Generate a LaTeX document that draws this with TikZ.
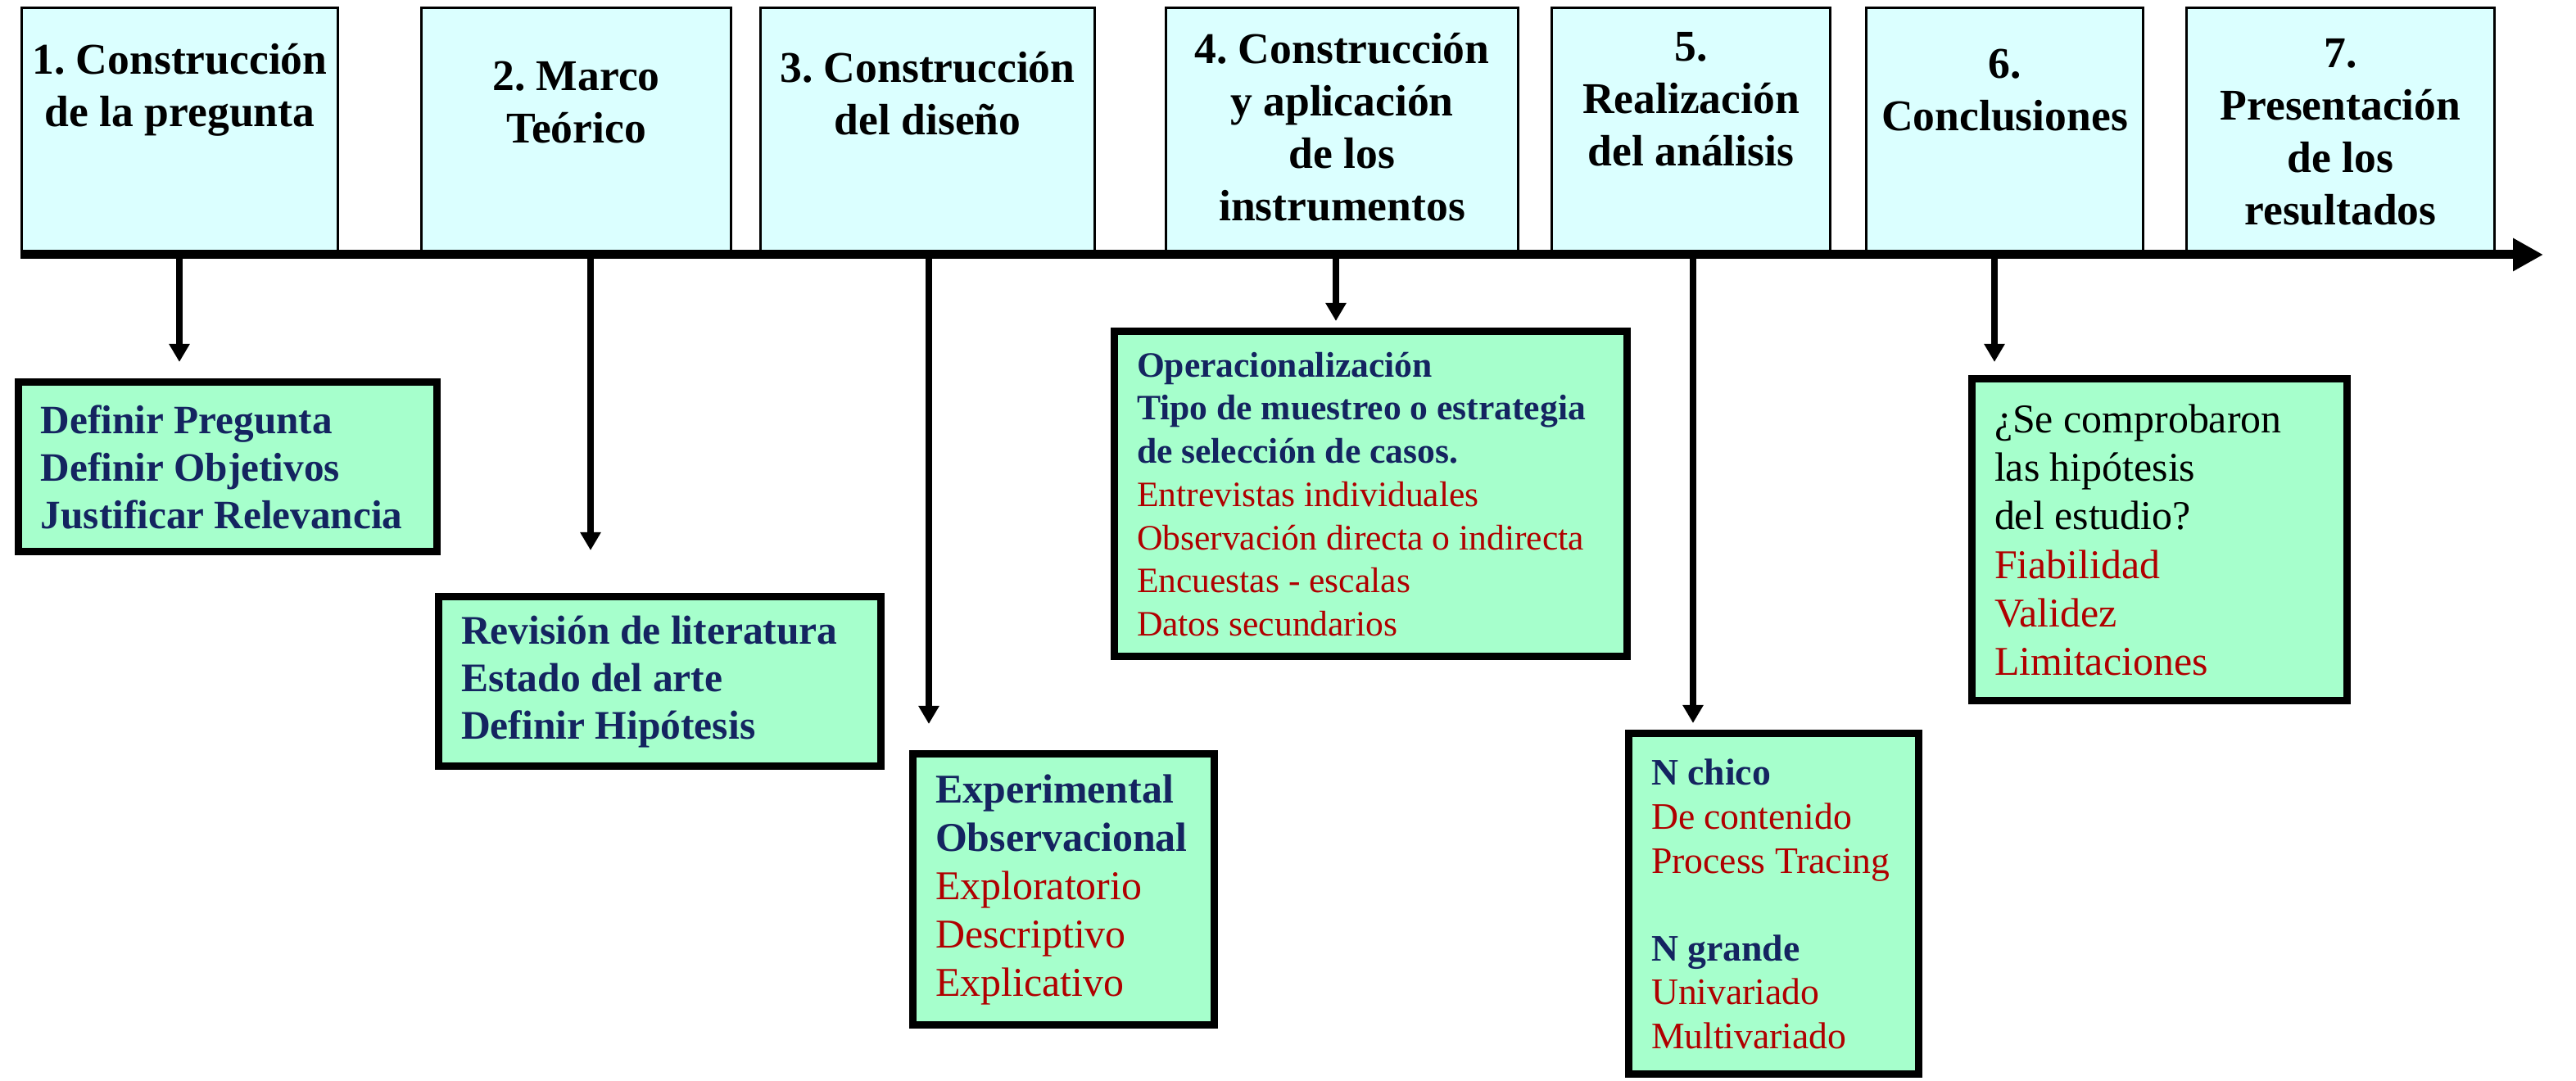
\documentclass[tikz,border=0pt]{standalone}
\usepackage{fontspec}
\setmainfont{Liberation Serif}
\usetikzlibrary{arrows.meta}
\definecolor{celeste}{RGB}{219,255,255}
\definecolor{menta}{RGB}{166,255,204}
\definecolor{azul}{RGB}{20,36,96}
\definecolor{rojo}{RGB}{176,0,0}
\hyphenpenalty=10000
\frenchspacing
\newcommand{\cabecera}[3]{\parbox[t][2.98cm][t]{#1}{\centering\vspace*{#2}\strut#3}}
\newcommand{\destacado}[1]{\textcolor{azul}{\bfseries #1}}
\newcommand{\opcion}[1]{\textcolor{rojo}{#1}}
\tikzset{
  paso/.style={
    draw=black,
    line width=0.85pt,
    fill=celeste,
    inner sep=0pt,
    anchor=north west,
    font=\fontsize{15.25}{18.2}\selectfont\bfseries
  },
  etapa/.style={
    draw=black,
    line width=0.09cm,
    fill=menta,
    inner xsep=0.28cm,
    inner ysep=0pt,
    anchor=north west,
    align=flush left
  },
  eje/.style={
    -{Triangle[length=0.37cm, width=0.38cm]},
    line width=0.11cm
  },
  flecha/.style={
    -{Triangle[length=0.22cm, width=0.24cm]},
    line width=0.08cm
  }
}
\begin{document}
\begin{tikzpicture}
    \useasboundingbox (0,0) rectangle (31.45,-13.2);

    % etapas del proceso (fila superior)
    \node[paso] (p1) at (0.25,-0.08) {\cabecera{3.86cm}{0.36cm}{1. Construcción\\ de la pregunta}};
    \node[paso] (p2) at (5.13,-0.08) {\cabecera{3.78cm}{0.56cm}{2. Marco\\ Teórico}};
    \node[paso] (p3) at (9.27,-0.08) {\cabecera{4.08cm}{0.46cm}{3. Construcción\\ del diseño}};
    \node[paso] (p4) at (14.22,-0.08) {\cabecera{4.30cm}{0.23cm}{4. Construcción\\ y aplicación\\ de los\\ instrumentos}};
    \node[paso] (p5) at (18.93,-0.08) {\cabecera{3.40cm}{0.20cm}{5.\\ Realización\\ del análisis}};
    \node[paso] (p6) at (22.77,-0.08) {\cabecera{3.38cm}{0.41cm}{6.\\ Conclusiones}};
    \node[paso] (p7) at (26.68,-0.08) {\cabecera{3.76cm}{0.28cm}{7.\\ Presentación\\ de los\\ resultados}};

    % eje del tiempo
    \coordinate (inicio) at (0.25,-3.11);
    \coordinate (fin) at (31.05,-3.11);
    \draw[eje] (inicio) -- (fin);

    % cajas de tareas
    \node[etapa, text width=4.55cm, minimum height=2.07cm, font=\fontsize{14}{16.5}\selectfont] (g1) at (0.175,-4.625)
      {\destacado{Definir Pregunta}\\ \destacado{Definir Objetivos}\\ \destacado{Justificar Relevancia}};
    \node[etapa, text width=4.84cm, minimum height=2.07cm, font=\fontsize{14.1}{16.5}\selectfont] (g2) at (5.305,-7.245)
      {\destacado{Revisión de literatura}\\ \destacado{Estado del arte}\\ \destacado{Definir Hipótesis}};
    \node[etapa, text width=3.12cm, minimum height=3.31cm, font=\fontsize{14.2}{16.8}\selectfont] (g3) at (11.095,-9.165)
      {\destacado{Experimental}\\ \destacado{Observacional}\\ \opcion{Exploratorio}\\ \opcion{Descriptivo}\\ \opcion{Explicativo}};
    \node[etapa, text width=5.70cm, minimum height=3.97cm, font=\fontsize{12.4}{15}\selectfont] (g4) at (13.555,-4.005)
      {\destacado{Operacionalización}\\ \destacado{Tipo de muestreo o estrategia}\\ \destacado{de selección de casos.}\\
       \opcion{Entrevistas individuales}\\ \opcion{Observación directa o indirecta}\\ \opcion{Encuestas - escalas}\\ \opcion{Datos secundarios}};
    \node[etapa, text width=2.98cm, minimum height=4.16cm, font=\fontsize{13}{15.25}\selectfont] (g5) at (19.835,-8.915)
      {\destacado{N chico}\\ \opcion{De contenido}\\ \opcion{Process Tracing}\\[\baselineskip]
       \destacado{N grande}\\ \opcion{Univariado}\\ \opcion{Multivariado}};
    \node[etapa, text width=4.02cm, minimum height=3.93cm, font=\fontsize{14.2}{16.85}\selectfont] (g6) at (24.025,-4.585)
      {¿Se comprobaron\\ las hipótesis\\ del estudio?\\ \opcion{Fiabilidad}\\ \opcion{Validez}\\ \opcion{Limitaciones}};

    % flechas desde el eje
    \foreach \n/\x/\s in {1/2.19/0.205, 2/7.21/0.525, 3/11.34/0.325, 4/16.31/0.085, 5/20.67/0.085, 6/24.35/0.165} {
      \coordinate (e\n) at (\x,-3.11);
      \draw[flecha, shorten >=\s cm] (e\n) -- (e\n |- g\n.north);
    }

  \end{tikzpicture}
\end{document}
